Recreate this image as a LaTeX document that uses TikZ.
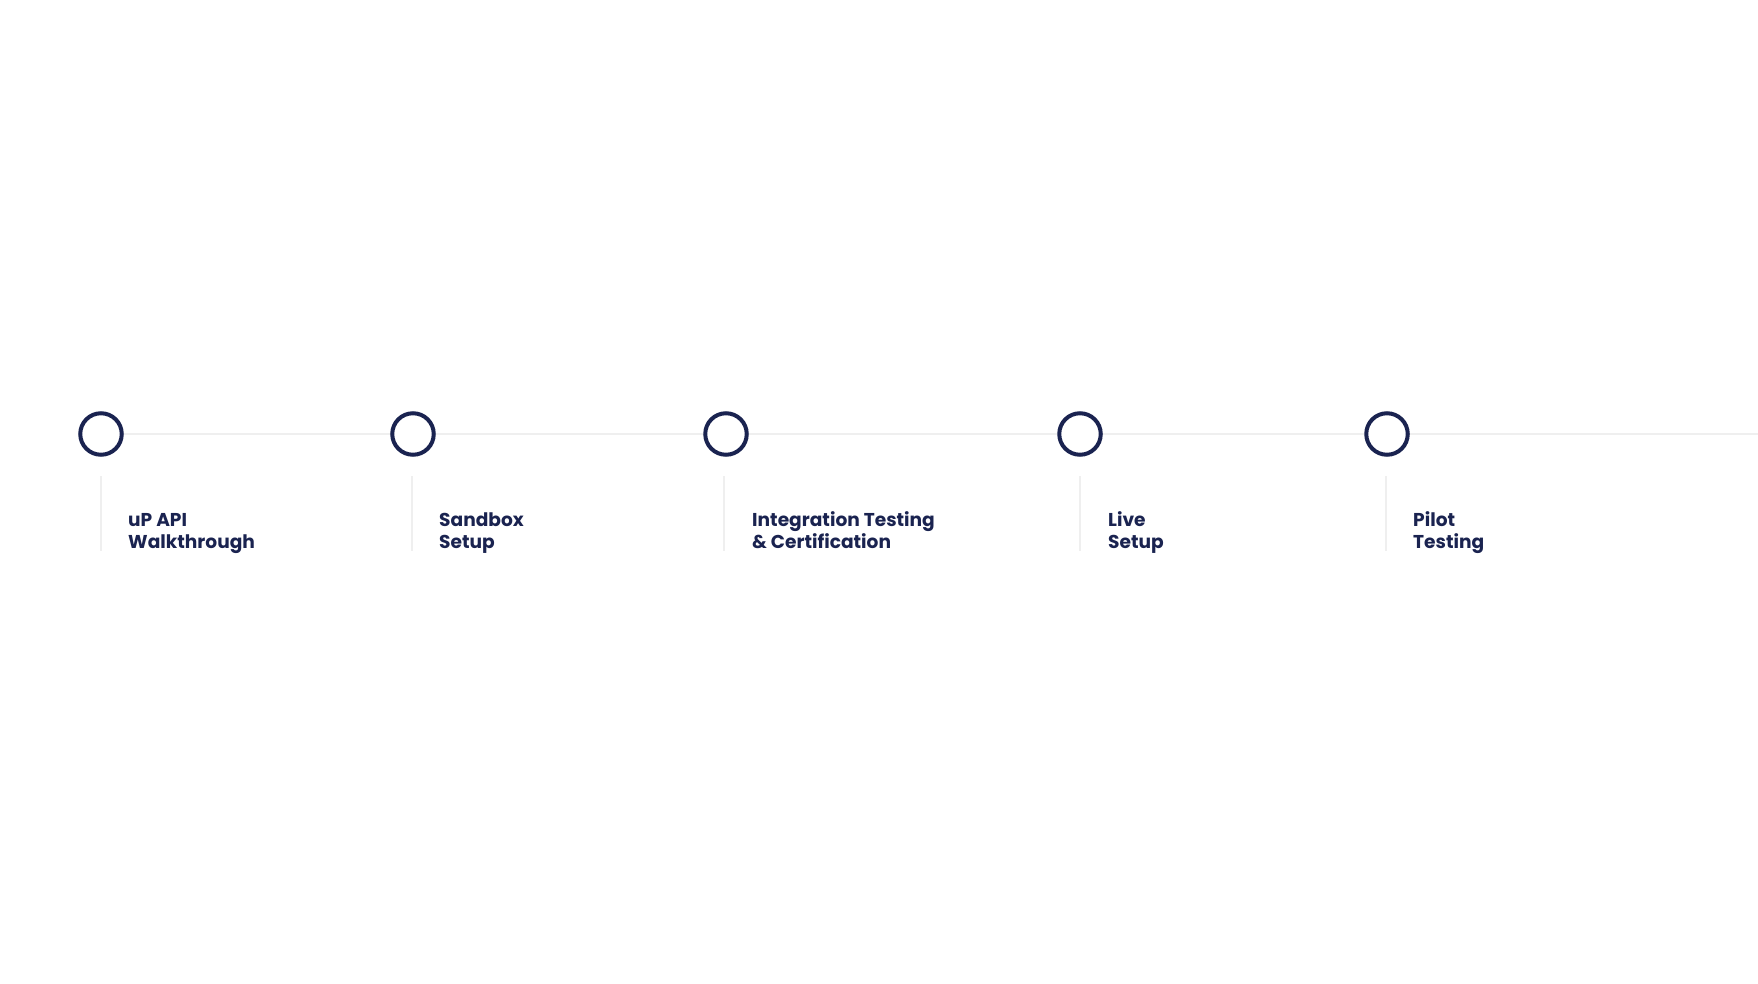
\documentclass[tikz,border=0pt]{standalone}
\usepackage{fontspec}
\setmainfont{Poppins}
\definecolor{navy}{HTML}{1A2350}
\definecolor{rule}{HTML}{EFEFEF}
\tikzset{
  x=1pt,y=-1pt,
  milestone/.style={circle,draw=navy,line width=4pt,fill=white,minimum size=41.5pt,inner sep=0pt},
  track/.style={draw=rule,line width=2pt},
  tick/.style={draw=rule,line width=1.5pt},
  steplabel/.style={anchor=base west,inner sep=0pt,align=left,text=navy,font=\fontsize{18.6}{22}\selectfont\bfseries}
}
\begin{document}
\begin{tikzpicture}
\useasboundingbox (0,0) rectangle (1758,984);
\coordinate (end) at (1758,434);
\draw[track] (100,434) -- (end);
\node[milestone] (c1) at (101,434) {};
\node[milestone] (c2) at (413,434) {};
\node[milestone] (c3) at (726,434) {};
\node[milestone] (c4) at (1080,434) {};
\node[milestone] (c5) at (1387,434) {};
\foreach \x/\n in {101/1,412/2,724/3,1080/4,1386/5}{
  \coordinate (t\n a) at (\x,476);
  \coordinate (t\n b) at (\x,551);
  \draw[tick] (t\n a) -- (t\n b);
}
\node[steplabel] (l1) at (128,548) {uP API\\Walkthrough};
\node[steplabel] (l2) at (439,548) {Sandbox\\Setup};
\node[steplabel] (l3) at (752,548) {Integration Testing\\\& Certification};
\node[steplabel] (l4) at (1108,548) {Live\\Setup};
\node[steplabel] (l5) at (1413,548) {Pilot\\Testing};
\end{tikzpicture}
\end{document}
